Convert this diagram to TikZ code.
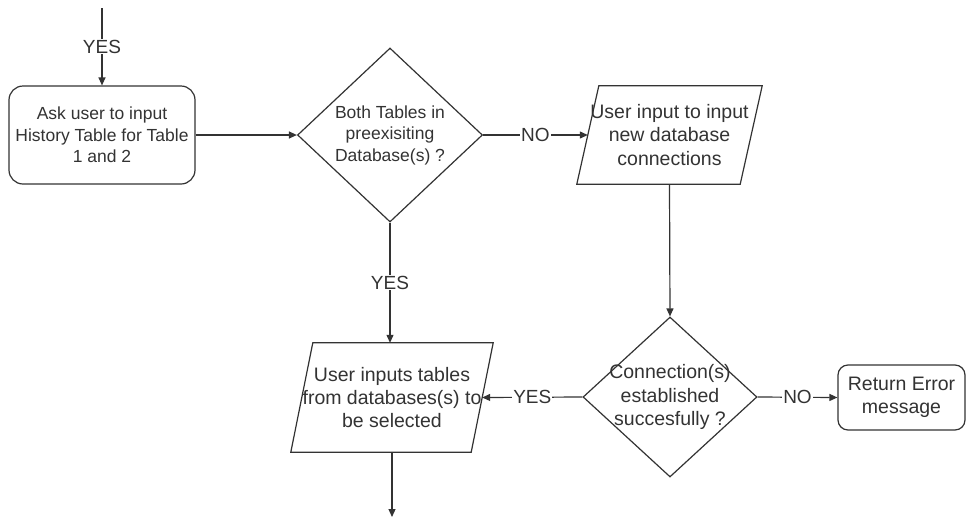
\documentclass[tikz,border=0pt]{standalone}
\usepackage{fontspec}
\setmainfont{Liberation Sans}
\usetikzlibrary{shapes.geometric,arrows.meta}
\definecolor{ink}{HTML}{333333}
\tikzset{
  x=1pt,y=-1pt,
  every node/.style={font=\fontsize{17.5}{21.5}\selectfont, text=ink},
  big/.style={font=\fontsize{19.5}{23.3}\selectfont},
  conn/.style={draw=ink, line width=1.2pt, -{Triangle[length=8pt,width=7pt]}},
  plain/.style={draw=ink, line width=1.2pt},
  rbox/.style={draw=ink, line width=1.2pt, rounded corners=14pt, align=center, inner sep=0pt},
  dia/.style={draw=ink, line width=1.2pt, diamond, inner sep=0pt},
  pbox/.style={align=center, inner sep=0pt},
  pedge/.style={draw=ink, line width=1.2pt},
  lbl/.style={fill=white, inner sep=1pt, font=\fontsize{19}{22}\selectfont},
  txt/.style={align=center, inner sep=0pt}
}
\begin{document}
\begin{tikzpicture}
\useasboundingbox (0,0) rectangle (967,520);
\fill[white] (0,0) rectangle (967,520);

\coordinate (top) at (102,8);
\node[rbox, minimum width=186pt, minimum height=98pt] (ask) at (102,135) {Ask user to input\\History Table for Table\\1 and 2};

\node[dia, minimum width=185pt, minimum height=174pt] (d1) at (390,135) {};
\node[txt] (d1t) at (390,135) {Both Tables in\\preexisiting\\Database(s) ?};

\node[pbox, minimum width=163pt, minimum height=98pt] (p1) at (669.5,135) {};
\draw[pedge] ([xshift=11pt]p1.north west) -- ([xshift=11pt]p1.north east) -- ([xshift=-11pt]p1.south east) -- ([xshift=-11pt]p1.south west) -- cycle;
\node[txt, big] (p1t) at (669.5,135) {User input to input\\new database\\connections};

\node[dia, minimum width=174pt, minimum height=160pt] (d2) at (670,397) {};
\node[txt, big] (d2t) at (670,397) {Connection(s)\\established\\succesfully ?};

\node[rbox, big, minimum width=127pt, minimum height=65pt, rounded corners=10pt] (err) at (901.5,397.5) {Return Error\\message};

\node[pbox, minimum width=180pt, minimum height=109pt] (p2) at (392,397.5) {};
\draw[pedge] ([xshift=11pt]p2.north west) -- ([xshift=11pt]p2.north east) -- ([xshift=-11pt]p2.south east) -- ([xshift=-11pt]p2.south west) -- cycle;
\node[txt, big] (p2t) at (392,397.5) {User inputs tables\\from databases(s) to\\be selected};

\coordinate (bot) at (392,517);

% connectors
\draw[conn] (top) -- node[lbl] (l1) {YES} (ask.north);
\draw[conn] (ask.east) -- (d1.west);
\draw[conn] (d1.east) -- node[lbl] (l2) {NO} (p1.west);
\draw[conn] (p1.south) -- (d2.north);
\draw[conn] (d2.east) -- node[lbl] (l3) {NO} (err.west);
\draw[conn] (d2.west) -- node[lbl] (l4) {YES} (p2.east);
\draw[conn] (d1.south) -- node[lbl, pos=0.5] (l5) {YES} (d1.south |- p2.north);
\draw[conn] (p2.south) -- (bot);
\end{tikzpicture}
\end{document}
